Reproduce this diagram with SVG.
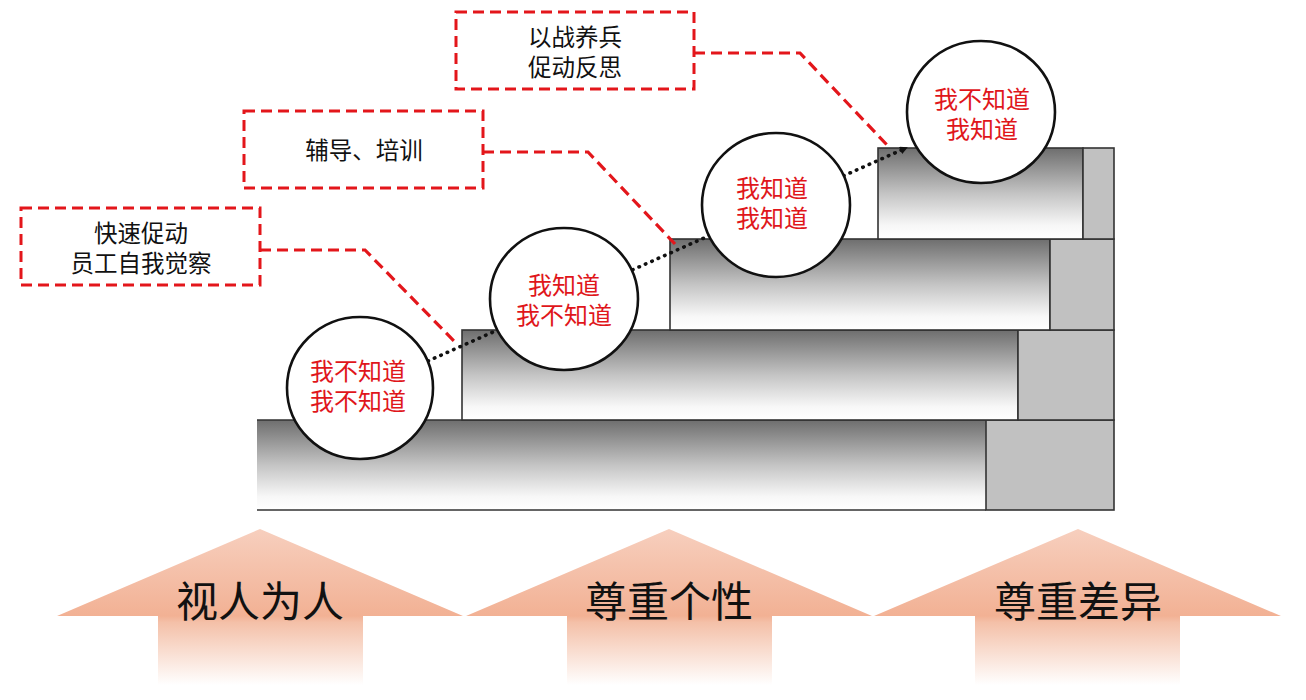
<svg xmlns="http://www.w3.org/2000/svg" width="1306" height="700" viewBox="0 0 1306 700">
<defs>
<linearGradient id="stepG" x1="0" y1="0" x2="0" y2="1">
<stop offset="0" stop-color="#6e6e6e"/>
<stop offset="0.5" stop-color="#c4c4c4"/>
<stop offset="0.85" stop-color="#f7f7f7"/>
<stop offset="1" stop-color="#ffffff"/>
</linearGradient>
<linearGradient id="arrG" gradientUnits="userSpaceOnUse" x1="0" y1="529" x2="0" y2="690">
<stop offset="0" stop-color="#f7cfbe"/>
<stop offset="0.54" stop-color="#f2b194"/>
<stop offset="0.58" stop-color="#f4c0a8"/>
<stop offset="0.97" stop-color="#ffffff"/>
</linearGradient>
<marker id="dotArrow" markerWidth="8" markerHeight="8" refX="6" refY="4" orient="auto" markerUnits="userSpaceOnUse" viewBox="0 0 8 8">
<path d="M0,0 L8,4 L0,8 Z" fill="#111"/>
</marker>
<style>
.step{fill:url(#stepG);stroke:#333;stroke-width:1.6}
.blk{fill:#c1c1c1;stroke:#333;stroke-width:1.6}
.circ{fill:#fff;stroke:#111;stroke-width:2.6}
.ctext{font-family:"Liberation Sans","Noto Sans CJK SC",sans-serif;font-size:24px;fill:#e0161b;text-anchor:middle}
.btext{font-family:"Liberation Sans","Noto Sans CJK SC",sans-serif;font-size:23.5px;fill:#111;text-anchor:middle}
.box{fill:#fff;stroke:#e3161b;stroke-width:3;stroke-dasharray:11 6}
.lead{fill:none;stroke:#e3161b;stroke-width:3.2;stroke-dasharray:11 6}
.arr{fill:url(#arrG)}
.atext{font-family:"Liberation Sans","Noto Sans CJK SC",sans-serif;font-size:42px;fill:#111;text-anchor:middle}
</style>
</defs>

<g id="arrows">
<g id="arrow1"><path class="arr" d="M260,529 L463,616 L363,616 L363,690 L158,690 L158,616 L57,616 Z"/><text class="atext" x="260" y="617">视人为人</text></g>
<g id="arrow2"><path class="arr" d="M669,529 L872,616 L772,616 L772,690 L567,690 L567,616 L466,616 Z"/><text class="atext" x="669" y="617">尊重个性</text></g>
<g id="arrow3"><path class="arr" d="M1078,529 L1281,616 L1180,616 L1180,690 L975,690 L975,616 L874,616 Z"/><text class="atext" x="1078" y="617">尊重差异</text></g>
</g>

<g id="steps">
<g id="step1">
<rect x="257" y="420" width="729" height="90" fill="url(#stepG)"/>
<path d="M257,420 H986 M257,510 H986" stroke="#333" stroke-width="1.6" fill="none"/>
<rect class="blk" x="986" y="420" width="128" height="90"/>
</g>
<g id="step2">
<rect class="step" x="462" y="330" width="556" height="90"/>
<rect class="blk" x="1018" y="330" width="96" height="90"/>
</g>
<g id="step3">
<rect class="step" x="670" y="239" width="380" height="91"/>
<rect class="blk" x="1050" y="239" width="64" height="91"/>
</g>
<g id="step4">
<rect class="step" x="878" y="148" width="205" height="91"/>
<rect class="blk" x="1083" y="148" width="31" height="91"/>
</g>
</g>

<g id="connectors">
<path d="M428,361 L906,148" fill="none" stroke="#111" stroke-width="3.6" stroke-linecap="round" stroke-dasharray="0.5 6.5" marker-end="url(#dotArrow)"/>
<path class="lead" d="M260,250 H365 L455,342"/>
<path class="lead" d="M483,152 H588 L675,244"/>
<path class="lead" d="M694,53 H800 L888,146"/>
</g>

<g id="circle1"><ellipse class="circ" cx="360" cy="388" rx="73" ry="71"/><text class="ctext"><tspan x="358" y="380">我不知道</tspan><tspan x="358" y="410">我不知道</tspan></text></g>
<g id="circle2"><ellipse class="circ" cx="564" cy="299" rx="74" ry="71"/><text class="ctext"><tspan x="564" y="294">我知道</tspan><tspan x="564" y="324">我不知道</tspan></text></g>
<g id="circle3"><ellipse class="circ" cx="776" cy="205" rx="74" ry="72"/><text class="ctext"><tspan x="772" y="197">我知道</tspan><tspan x="772" y="227">我知道</tspan></text></g>
<g id="circle4"><ellipse class="circ" cx="981" cy="112" rx="74" ry="71"/><text class="ctext"><tspan x="982" y="108">我不知道</tspan><tspan x="982" y="138">我知道</tspan></text></g>

<g id="box1"><rect class="box" x="21" y="208" width="239" height="77"/><text class="btext"><tspan x="141" y="242">快速促动</tspan><tspan x="141" y="272">员工自我觉察</tspan></text></g>
<g id="box2"><rect class="box" x="244" y="111" width="239" height="77"/><text class="btext" x="364" y="159">辅导、培训</text></g>
<g id="box3"><rect class="box" x="456" y="12" width="238" height="77"/><text class="btext"><tspan x="575" y="46">以战养兵</tspan><tspan x="575" y="76">促动反思</tspan></text></g>
</svg>
